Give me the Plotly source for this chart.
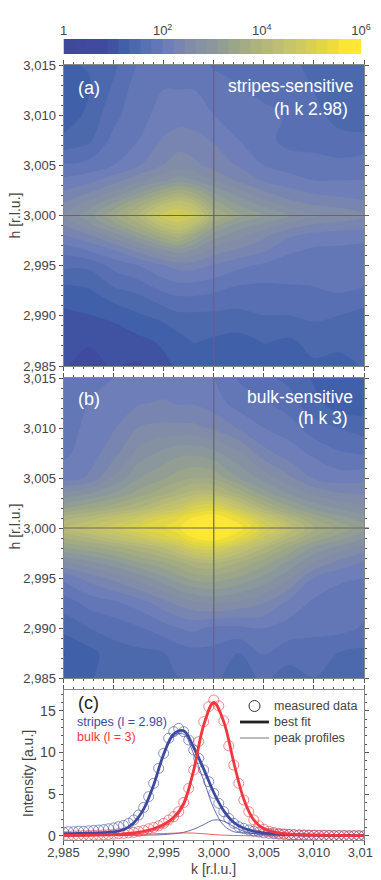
import plotly.graph_objects as go

# map grids: log10(intensity)
k_map = [2.985, 2.9875, 2.99, 2.9925, 2.995, 2.9965, 2.998, 3.0, 3.0025, 3.005, 3.0075, 3.01, 3.0125, 3.015]
h_map = [3.015, 3.0125, 3.01, 3.0075, 3.005, 3.0035, 3.002, 3.001, 3.0, 2.999, 2.998, 2.9965, 2.995, 2.9925, 2.99, 2.9875, 2.985]

stripes_map = [
    [1.3, 1.35, 1.5, 1.8, 1.95, 1.8, 1.9, 1.75, 1.7, 1.65, 1.6, 1.5, 1.45, 1.4],
    [1.3, 1.3, 1.6, 1.9, 2.0, 2.0, 2.0, 1.9, 1.8, 1.7, 1.7, 1.55, 1.4, 1.45],
    [1.15, 1.4, 1.7, 1.95, 2.05, 2.1, 2.1, 2.0, 1.9, 1.85, 1.75, 1.6, 1.5, 1.45],
    [1.4, 1.5, 1.85, 2.0, 2.25, 2.35, 2.3, 2.2, 2.0, 1.85, 1.7, 1.7, 1.6, 1.6],
    [1.8, 1.85, 2.0, 2.2, 2.45, 2.55, 2.5, 2.35, 2.2, 2.0, 1.9, 1.85, 1.85, 1.9],
    [2.05, 2.15, 2.35, 2.6, 2.85, 3.0, 2.9, 2.65, 2.4, 2.2, 2.1, 2.0, 2.0, 2.0],
    [2.3, 2.5, 2.8, 3.2, 3.7, 3.9, 3.7, 3.2, 2.85, 2.55, 2.35, 2.25, 2.2, 2.15],
    [2.5, 2.8, 3.2, 3.7, 4.3, 4.5, 4.3, 3.5, 3.1, 2.85, 2.6, 2.45, 2.4, 2.3],
    [2.7, 3.0, 3.5, 4.0, 4.8, 4.95, 4.7, 3.8, 3.4, 3.1, 2.9, 2.7, 2.6, 2.5],
    [2.45, 2.8, 3.2, 3.7, 4.3, 4.5, 4.2, 3.4, 3.0, 2.8, 2.55, 2.4, 2.35, 2.3],
    [2.2, 2.4, 2.75, 3.2, 3.7, 3.9, 3.5, 3.0, 2.75, 2.5, 2.25, 2.15, 2.1, 2.1],
    [1.85, 2.0, 2.2, 2.5, 2.85, 3.0, 2.85, 2.55, 2.4, 2.25, 2.05, 1.95, 1.95, 1.9],
    [1.6, 1.6, 1.85, 2.0, 2.2, 2.3, 2.3, 2.2, 2.05, 1.95, 1.85, 1.9, 1.95, 1.95],
    [1.25, 1.3, 1.5, 1.6, 1.8, 1.85, 1.85, 1.8, 1.7, 1.7, 1.75, 1.75, 1.8, 1.75],
    [1.05, 1.1, 1.15, 1.3, 1.4, 1.5, 1.5, 1.5, 1.5, 1.55, 1.55, 1.6, 1.55, 1.45],
    [0.95, 0.9, 1.0, 1.05, 1.15, 1.25, 1.35, 1.3, 1.25, 1.35, 1.3, 1.4, 1.4, 1.35],
    [0.9, 0.85, 0.9, 0.85, 1.05, 1.15, 1.15, 1.15, 1.25, 1.2, 1.3, 1.3, 1.25, 1.35],
]

bulk_map = [
    [1.9, 1.9, 2.0, 2.0, 2.05, 2.05, 2.05, 2.0, 1.75, 1.6, 1.5, 1.3, 1.15, 1.2],
    [1.9, 2.0, 2.1, 2.2, 2.25, 2.2, 2.2, 2.1, 1.9, 1.8, 1.65, 1.4, 1.2, 1.2],
    [1.9, 2.05, 2.2, 2.45, 2.5, 2.5, 2.5, 2.4, 2.2, 2.0, 1.9, 1.65, 1.55, 1.45],
    [1.95, 2.1, 2.35, 2.75, 2.95, 3.05, 3.05, 2.95, 2.7, 2.3, 2.1, 1.95, 1.8, 1.75],
    [2.1, 2.25, 2.7, 3.1, 3.3, 3.45, 3.55, 3.5, 3.1, 2.8, 2.5, 2.2, 2.1, 2.15],
    [2.7, 2.85, 3.1, 3.4, 3.7, 3.9, 4.1, 4.1, 3.7, 3.2, 2.85, 2.6, 2.45, 2.4],
    [3.3, 3.5, 3.7, 4.0, 4.4, 4.6, 5.0, 5.15, 4.6, 3.9, 3.4, 3.05, 2.85, 2.7],
    [3.9, 4.1, 4.4, 4.7, 5.1, 5.3, 5.6, 5.8, 5.35, 4.6, 4.0, 3.5, 3.2, 3.0],
    [4.2, 4.5, 4.8, 5.1, 5.3, 5.5, 5.9, 6.1, 5.7, 5.0, 4.4, 3.8, 3.5, 3.2],
    [3.8, 4.0, 4.3, 4.6, 5.0, 5.2, 5.55, 5.75, 5.3, 4.6, 4.0, 3.5, 3.2, 2.9],
    [3.3, 3.45, 3.65, 3.9, 4.2, 4.5, 4.9, 5.0, 4.5, 4.0, 3.5, 3.05, 2.8, 2.55],
    [2.6, 2.8, 3.0, 3.3, 3.5, 3.7, 3.9, 4.0, 3.75, 3.4, 3.05, 2.65, 2.35, 2.2],
    [2.05, 2.3, 2.5, 2.75, 3.05, 3.25, 3.4, 3.45, 3.3, 3.05, 2.7, 2.2, 2.05, 2.0],
    [1.65, 1.85, 1.95, 2.1, 2.35, 2.5, 2.6, 2.7, 2.6, 2.45, 2.15, 1.95, 1.85, 1.85],
    [1.4, 1.55, 1.65, 1.75, 1.9, 2.0, 2.05, 1.95, 1.95, 2.0, 1.9, 1.85, 1.85, 1.75],
    [1.1, 1.25, 1.45, 1.5, 1.55, 1.65, 1.7, 1.7, 1.55, 1.8, 1.65, 1.65, 1.55, 1.5],
    [1.15, 1.3, 1.45, 1.45, 1.35, 1.55, 1.55, 1.6, 1.45, 1.6, 1.45, 1.55, 1.45, 1.4],
]

# panel (c) measured scans, one point every 0.0005
k_data = [2.985, 2.9855, 2.986, 2.9865, 2.987, 2.9875, 2.988, 2.9885, 2.989, 2.9895,
          2.99, 2.9905, 2.991, 2.9915, 2.992, 2.9925, 2.993, 2.9935, 2.994, 2.9945,
          2.995, 2.9955, 2.996, 2.9965, 2.997, 2.9975, 2.998, 2.9985, 2.999, 2.9995,
          3.0, 3.0005, 3.001, 3.0015, 3.002, 3.0025, 3.003, 3.0035, 3.004, 3.0045,
          3.005, 3.0055, 3.006, 3.0065, 3.007, 3.0075, 3.008, 3.0085, 3.009, 3.0095,
          3.01, 3.0105, 3.011, 3.0115, 3.012, 3.0125, 3.013, 3.0135, 3.014, 3.0145, 3.015]
stripes_data = [0.45, 0.5, 0.5, 0.55, 0.55, 0.6, 0.65, 0.7, 0.75, 0.85,
                0.95, 1.1, 1.25, 1.5, 1.9, 2.5, 3.4, 4.7, 6.3, 8.1,
                9.9, 11.7, 12.5, 12.9, 12.5, 11.5, 10.3, 9.3, 7.9, 6.5,
                5.1, 3.9, 2.9, 2.1, 1.5, 1.1, 0.9, 0.7, 0.55, 0.45,
                0.35, 0.3, 0.25, 0.2, 0.18, 0.15, 0.12, 0.1, 0.1, 0.08,
                0.08, 0.06, 0.06, 0.05, 0.05, 0.04, 0.04, 0.03, 0.03, 0.02, 0.02]
bulk_data = [-0.05, -0.05, 0.0, 0.0, 0.03, 0.05, 0.08, 0.1, 0.12, 0.15,
             0.2, 0.25, 0.3, 0.35, 0.42, 0.52, 0.65, 0.85, 1.0, 1.2,
             1.5, 1.9, 2.3, 2.9, 4.0, 5.7, 7.9, 11.3, 13.7, 15.5,
             16.3, 15.6, 13.8, 10.8, 8.5, 6.3, 4.3, 2.9, 1.9, 1.2,
             0.8, 0.55, 0.4, 0.3, 0.22, 0.18, 0.14, 0.1, 0.08, 0.06,
             0.05, 0.03, 0.03, 0.02, 0.0, 0.02, 0.0, -0.02, 0.0, 0.0, 0.0]

# panel (c) fit curves, one point every 0.001
k_fit = [2.985, 2.986, 2.987, 2.988, 2.989, 2.99, 2.991, 2.992, 2.993, 2.994, 2.995,
         2.996, 2.997, 2.998, 2.999, 3.0, 3.001, 3.002, 3.003, 3.004, 3.005,
         3.006, 3.007, 3.008, 3.009, 3.01, 3.011, 3.012, 3.013, 3.014, 3.015]
stripes_fit = [0.25, 0.27, 0.3, 0.33, 0.38, 0.47, 0.75, 1.55, 3.2, 6.1, 9.8,
               12.2, 12.6, 10.6, 8.0, 5.2, 3.0, 1.6, 0.9, 0.55, 0.35,
               0.25, 0.18, 0.14, 0.1, 0.08, 0.06, 0.05, 0.04, 0.03, 0.02]
stripes_main = [0.24, 0.26, 0.29, 0.31, 0.36, 0.44, 0.71, 1.49, 3.12, 6.0, 9.65,
                11.95, 12.2, 9.8, 6.65, 3.3, 1.25, 0.5, 0.35, 0.27, 0.2,
                0.16, 0.12, 0.1, 0.07, 0.06, 0.04, 0.04, 0.03, 0.02, 0.01]
stripes_second = [0.01, 0.01, 0.01, 0.02, 0.02, 0.03, 0.04, 0.06, 0.08, 0.1, 0.15,
                  0.25, 0.42, 0.8, 1.35, 1.9, 1.75, 1.1, 0.55, 0.28, 0.15,
                  0.09, 0.06, 0.04, 0.03, 0.02, 0.02, 0.01, 0.01, 0.01, 0.01]
bulk_fit = [0.05, 0.06, 0.07, 0.09, 0.12, 0.16, 0.25, 0.36, 0.55, 0.85, 1.35,
            2.2, 3.9, 7.9, 13.3, 16.0, 13.7, 8.8, 4.4, 1.9, 0.85,
            0.45, 0.28, 0.18, 0.12, 0.09, 0.07, 0.05, 0.04, 0.03, 0.03]
bulk_main = [0.02, 0.02, 0.02, 0.03, 0.04, 0.06, 0.12, 0.2, 0.35, 0.61, 1.07,
             1.88, 3.55, 7.57, 13.05, 15.85, 13.62, 8.76, 4.38, 1.89, 0.85,
             0.45, 0.28, 0.18, 0.12, 0.09, 0.07, 0.05, 0.04, 0.03, 0.03]
bulk_second = [0.03, 0.04, 0.05, 0.06, 0.08, 0.1, 0.13, 0.16, 0.2, 0.24, 0.28,
               0.32, 0.35, 0.33, 0.25, 0.15, 0.08, 0.04, 0.02, 0.01, 0.0,
               0.0, 0.0, 0.0, 0.0, 0.0, 0.0, 0.0, 0.0, 0.0, 0.0]

# colour bar bands
cbar_levels = [0.11, 0.33, 0.56, 0.78, 1.0, 1.22, 1.44, 1.67, 1.89, 2.11, 2.33, 2.56, 2.78, 3.0,
               3.22, 3.44, 3.67, 3.89, 4.11, 4.33, 4.56, 4.78, 5.0, 5.22, 5.44, 5.67, 5.89]
cbar_vals = [0, 2, 4, 6]
cbar_text = ["1", "10<sup>2</sup>", "10<sup>4</sup>", "10<sup>6</sup>"]

# the page body has an 8px margin, so everything is placed relative to that
OFF = 8
FW, FH = 373, 872
FONT = "Liberation Sans"
INK = "#444444"
BLUE = "#3d4a9f"
RED = "#f0363e"
MAP_COLORS = [[0, "#40489c"], [0.15, "#404c9f"], [0.2, "#3f60a8"], [0.27, "#566fb3"], [0.35, "#6d7eb8"],
              [0.42, "#7f8ba9"], [0.5, "#8a979c"], [0.58, "#9ca688"], [0.7, "#b8bb76"], [0.8, "#d0cb5e"],
              [0.88, "#e3d73f"], [0.95, "#fde735"], [1, "#fde935"]]


def px(x):
    return (x - OFF) / FW


def py(y):
    return 1 - (y - OFF) / FH


def axis_style(**kw):
    return dict(range=[2.985, 3.015], dtick=0.005, tick0=2.985, tickformat=".3f", ticks="outside",
                ticklen=4, tickwidth=1, tickcolor="#555555", showgrid=False, zeroline=False,
                mirror="allticks", showline=True, linecolor="#888888", linewidth=1, automargin=False,
                minor=dict(dtick=0.001, ticks="outside", ticklen=2, tickcolor="#555555"),
                tickfont=dict(size=13, color=INK), **kw)


fig = go.Figure()

for z, xa, ya in [(stripes_map, "x", "y"), (bulk_map, "x2", "y2")]:
    fig.add_trace(go.Contour(
        x=k_map, y=h_map, z=z, xaxis=xa, yaxis=ya, zmin=0, zmax=6, colorscale=MAP_COLORS,
        contours=dict(start=0, end=6, size=0.222, coloring="fill", showlines=False),
        line=dict(width=0), showscale=False, hoverinfo="skip",
    ))

fig.add_trace(go.Heatmap(x=cbar_levels, y=[0], z=[cbar_levels], xaxis="x4", yaxis="y4", zmin=0, zmax=6,
                         colorscale=MAP_COLORS, showscale=False, hoverinfo="skip"))

# peak profiles
for y, c in [(stripes_main, BLUE), (stripes_second, BLUE), (bulk_main, RED), (bulk_second, RED)]:
    fig.add_trace(go.Scatter(x=k_fit, y=y, xaxis="x3", yaxis="y3", mode="lines", showlegend=False,
                             line=dict(color=c, width=0.8, shape="spline")))
# measured data
for y, c in [(stripes_data, "rgba(61,74,159,0.75)"), (bulk_data, "rgba(240,54,62,0.75)")]:
    fig.add_trace(go.Scatter(x=k_data, y=y, xaxis="x3", yaxis="y3", mode="markers", showlegend=False,
                             marker=dict(symbol="circle-open", size=10, color=c, line=dict(width=0.8, color=c))))
# best fit
for y, c in [(stripes_fit, BLUE), (bulk_fit, RED)]:
    fig.add_trace(go.Scatter(x=k_fit, y=y, xaxis="x3", yaxis="y3", mode="lines", showlegend=False,
                             line=dict(color=c, width=2.8, shape="spline")))

xdom = [px(63.5), px(364)]
fig.update_layout(
    width=FW, height=FH, autosize=False, margin=dict(l=0, r=0, t=0, b=0, autoexpand=False),
    paper_bgcolor="white", plot_bgcolor="white", separators=", ", showlegend=False,
    font=dict(family=FONT, color=INK, size=13),
    xaxis=axis_style(domain=xdom, anchor="y", showticklabels=False),
    yaxis=axis_style(domain=[py(366), py(65)], anchor="x"),
    xaxis2=axis_style(domain=xdom, anchor="y2", showticklabels=False),
    yaxis2=axis_style(domain=[py(678), py(378)], anchor="x2"),
    xaxis3=axis_style(domain=xdom, anchor="y3", ticklabelstandoff=-4),
    yaxis3=dict(domain=[py(840), py(690)], anchor="x3", range=[-0.5, 17.5], tick0=0, dtick=5, ticks="outside",
                ticklen=4, tickcolor="#555555", showgrid=False, zeroline=False, mirror="allticks", automargin=False,
                showline=True, linecolor="#888888", minor=dict(dtick=1, ticks="outside", ticklen=2, tickcolor="#555555"),
                tickfont=dict(size=14, color=INK)),
    xaxis4=dict(domain=[px(63.5), px(361)], anchor="y4", side="top", range=[0, 6], tickvals=cbar_vals, ticktext=cbar_text,
                ticks="", showgrid=False, zeroline=False, automargin=False,
                tickangle=0, tickfont=dict(size=13, color=INK)),
    yaxis4=dict(domain=[py(54), py(39)], anchor="x4", visible=False, automargin=False),
)

# crosshairs through the (3, 3) position
for xa, ya in [("x", "y"), ("x2", "y2")]:
    fig.add_shape(type="line", xref=xa, yref=ya + " domain", x0=3.0, x1=3.0, y0=0, y1=1,
                  line=dict(color="#666666", width=1.2))
    fig.add_shape(type="line", xref=xa + " domain", yref=ya, x0=0, x1=1.016, y0=3.0, y1=3.0,
                  line=dict(color="#666666", width=1.2))

labels = [
    ("(a)", 0.04, 0.924, "left", "white", 18, "x", "y"),
    ("stripes-sensitive", 0.97, 0.93, "right", "white", 17.5, "x", "y"),
    ("(h k 2.98)", 0.955, 0.854, "right", "white", 17.5, "x", "y"),
    ("(b)", 0.04, 0.93, "left", "white", 18, "x2", "y2"),
    ("bulk-sensitive", 0.97, 0.937, "right", "white", 17.5, "x2", "y2"),
    ("(h k 3)", 0.955, 0.867, "right", "white", 17.5, "x2", "y2"),
    ("(c)", 0.04, 0.913, "left", "#222222", 18, "x3", "y3"),
    ("stripes (l = 2.98)", 0.038, 0.787, "left", BLUE, 12.5, "x3", "y3"),
    ("bulk (l = 3)", 0.038, 0.687, "left", RED, 12.5, "x3", "y3"),
]
for text, x, y, anchor, color, size, xa, ya in labels:
    fig.add_annotation(text=text, x=x, y=y, xref=xa + " domain", yref=ya + " domain", xanchor=anchor,
                       yanchor="middle", showarrow=False, font=dict(size=size, color=color))

# axis titles
titles = [("h [r.l.u.]", 14.5, 216, -90), ("h [r.l.u.]", 14.5, 527, -90),
          ("Intensity [a.u.]", 28, 774, -90), ("k [r.l.u.]", 213, 869, 0)]
for text, x, y, angle in titles:
    fig.add_annotation(text=text, x=px(x), y=py(y), xref="paper", yref="paper", textangle=angle,
                       xanchor="center", yanchor="middle", showarrow=False, font=dict(size=14, color=INK))

# hand-drawn key, as in the original
key = [("measured data", 706), ("best fit", 722), ("peak profiles", 738)]
for text, y in key:
    fig.add_annotation(text=text, x=px(272), y=py(y), xref="paper", yref="paper", xanchor="left",
                       yanchor="middle", showarrow=False, font=dict(size=12.5, color=INK))
fig.add_shape(type="circle", xref="paper", yref="paper", x0=px(249), x1=px(260), y0=py(711.5), y1=py(700.5),
              line=dict(color="#333333", width=1))
fig.add_shape(type="line", xref="paper", yref="paper", x0=px(240), x1=px(269), y0=py(722), y1=py(722),
              line=dict(color="#222222", width=2.8))
fig.add_shape(type="line", xref="paper", yref="paper", x0=px(240), x1=px(269), y0=py(738), y1=py(738),
              line=dict(color="#555555", width=0.8))

fig.write_html("out.html")
